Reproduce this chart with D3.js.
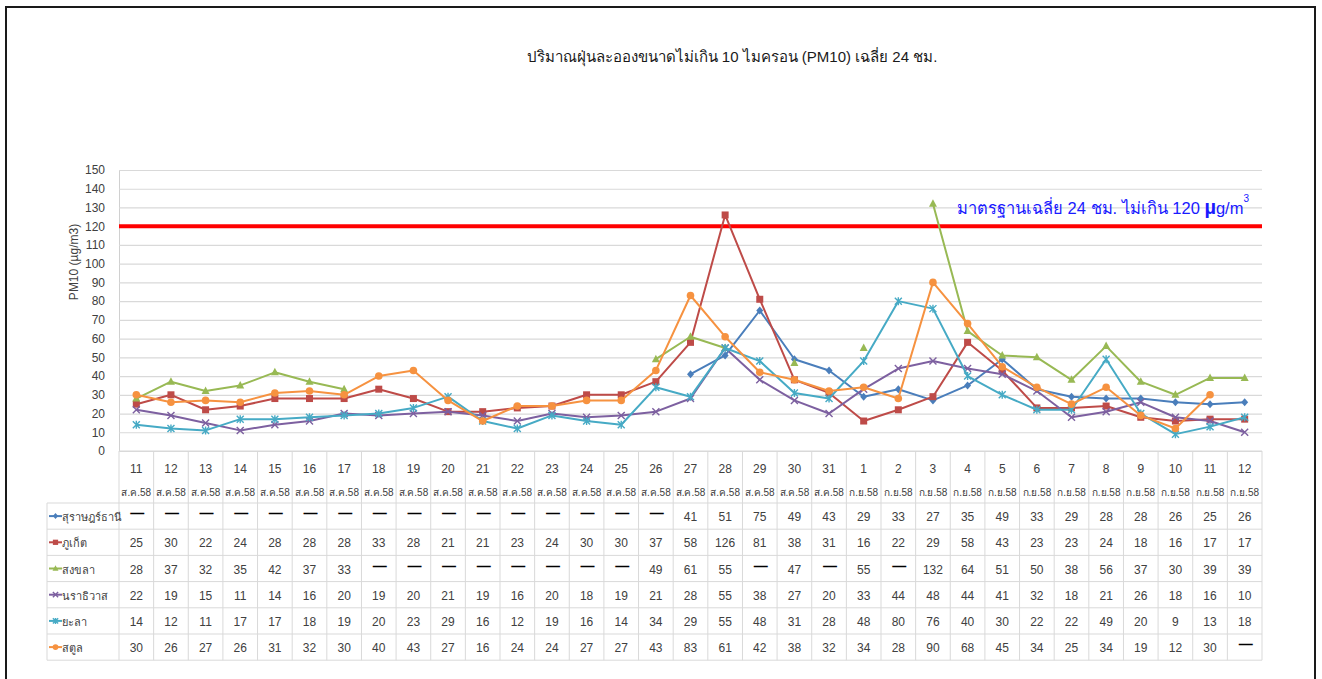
<!DOCTYPE html>
<html>
<head>
<meta charset="utf-8">
<script src="https://cdn.jsdelivr.net/npm/d3@7"></script>
<style>
  html, body { margin: 0; padding: 0; background: #fff; }
  svg { display: block; font-family: "Tahoma", "Liberation Sans", "Noto Sans", sans-serif; }
</style>
</head>
<body>
<svg id="chart" width="1322" height="679"></svg>
<script>
// ---------- data ----------
const days = ["11","12","13","14","15","16","17","18","19","20","21","22","23","24","25","26","27","28","29","30","31",
              "1","2","3","4","5","6","7","8","9","10","11","12"];
const months = ["ส.ค.58","ส.ค.58","ส.ค.58","ส.ค.58","ส.ค.58","ส.ค.58","ส.ค.58","ส.ค.58","ส.ค.58","ส.ค.58","ส.ค.58",
                "ส.ค.58","ส.ค.58","ส.ค.58","ส.ค.58","ส.ค.58","ส.ค.58","ส.ค.58","ส.ค.58","ส.ค.58","ส.ค.58",
                "ก.ย.58","ก.ย.58","ก.ย.58","ก.ย.58","ก.ย.58","ก.ย.58","ก.ย.58","ก.ย.58","ก.ย.58","ก.ย.58","ก.ย.58","ก.ย.58"];
const yTicks = [0,10,20,30,40,50,60,70,80,90,100,110,120,130,140,150];
const standardValue = 120;

const suratthani = [null,null,null,null,null,null,null,null,null,null,null,null,null,null,null,null,
                    41,51,75,49,43,29,33,27,35,49,33,29,28,28,26,25,26];
const phuket     = [25,30,22,24,28,28,28,33,28,21,21,23,24,30,30,37,58,126,81,38,31,16,22,29,58,43,23,23,24,18,16,17,17];
const songkhla   = [28,37,32,35,42,37,33,null,null,null,null,null,null,null,null,49,61,55,null,47,null,55,null,132,64,51,50,38,56,37,30,39,39];
const narathiwat = [22,19,15,11,14,16,20,19,20,21,19,16,20,18,19,21,28,55,38,27,20,33,44,48,44,41,32,18,21,26,18,16,10];
const yala       = [14,12,11,17,17,18,19,20,23,29,16,12,19,16,14,34,29,55,48,31,28,48,80,76,40,30,22,22,49,20,9,13,18];
const satun      = [30,26,27,26,31,32,30,40,43,27,16,24,24,27,27,43,83,61,42,38,32,34,28,90,68,45,34,25,34,19,12,30,null];

const seriesNames = ["สุราษฎร์ธานี","ภูเก็ต","สงขลา","นราธิวาส","ยะลา","สตูล"];
const seriesValues = [suratthani, phuket, songkhla, narathiwat, yala, satun];
const seriesColors = ["#4a7ebb","#be4b48","#98b954","#7d60a0","#46aac5","#f69240"];
const seriesMarkers = ["diamond","square","triangle","x","star","circle"];

// ---------- layout ----------
const svg = d3.select("#chart");
const plotLeft = 119, plotRight = 1262, plotTop = 170, plotBottom = 451;
const catRowBottom = 503, rowH = 26.2, legendLeft = 47;

const x = d3.scaleBand().domain(d3.range(days.length)).range([plotLeft, plotRight]);
const y = d3.scaleLinear().domain([0,150]).range([plotBottom, plotTop]);
const cx = i => x(i) + x.bandwidth()/2;

// frame
svg.append("rect").attr("x",6).attr("y",7).attr("width",1309).attr("height",700)
  .attr("fill","none").attr("stroke","#1a1a1a").attr("stroke-width",2);

// title
svg.append("text").attr("x",732).attr("y",62).attr("text-anchor","middle")
  .attr("font-size",15).attr("fill","#1a1a1a")
  .text("ปริมาณฝุ่นละอองขนาดไม่เกิน 10 ไมครอน (PM10) เฉลี่ย 24 ชม.");

// gridlines
const yAxis = d3.axisLeft(y).tickValues(yTicks).tickSize(-(plotRight-plotLeft)).tickPadding(14);
const gy = svg.append("g").attr("transform",`translate(${plotLeft},0)`).call(yAxis);
gy.select(".domain").attr("stroke","#d0d0d0");
gy.selectAll(".tick line").attr("stroke","#d9d9d9").attr("stroke-width",1.2);
gy.selectAll(".tick text").attr("font-size",12).attr("fill","#404040")
  .attr("font-family","Tahoma, 'Liberation Sans', sans-serif");

// y label
svg.append("text").attr("transform","translate(78,262) rotate(-90)")
  .attr("text-anchor","middle").attr("font-size",12).attr("fill","#404040")
  .text("PM10 (µg/m3)");

// ---------- table ----------
const tableColor = "#d9d9d9";
const tbl = svg.append("g");
tbl.append("line").attr("x1",plotLeft).attr("x2",plotRight).attr("y1",plotBottom).attr("y2",plotBottom).attr("stroke",tableColor);
const rowsBottom = catRowBottom + rowH*seriesNames.length;
for (let r = 0; r <= seriesNames.length; r++) {
  const yy = catRowBottom + r*rowH;
  tbl.append("line").attr("x1",legendLeft).attr("x2",plotRight).attr("y1",yy).attr("y2",yy).attr("stroke",tableColor);
}
d3.range(days.length+1).forEach(i => {
  const xx = i < days.length ? x(i) : plotRight;
  tbl.append("line").attr("x1",xx).attr("x2",xx).attr("y1",plotBottom).attr("y2",rowsBottom).attr("stroke",tableColor);
});
tbl.append("line").attr("x1",legendLeft).attr("x2",legendLeft).attr("y1",catRowBottom).attr("y2",rowsBottom).attr("stroke",tableColor);

// category labels
days.forEach((d,i) => {
  tbl.append("text").attr("x",cx(i)).attr("y",473).attr("text-anchor","middle")
    .attr("font-size",12).attr("fill","#404040").text(d);
  tbl.append("text").attr("x",cx(i)).attr("y",496).attr("text-anchor","middle")
    .attr("font-size",10).attr("fill","#404040").text(months[i]);
});

function marker(g, type, color, px, py, s) {
  s = s || 1;
  if (type === "diamond") {
    g.append("path").attr("d",`M${px},${py-4*s}L${px+3.5*s},${py}L${px},${py+4*s}L${px-3.5*s},${py}Z`).attr("fill",color);
  } else if (type === "square") {
    g.append("rect").attr("x",px-3.5*s).attr("y",py-3.5*s).attr("width",7*s).attr("height",7*s).attr("fill",color);
  } else if (type === "triangle") {
    g.append("path").attr("d",`M${px},${py-4.5*s}L${px+4*s},${py+3*s}L${px-4*s},${py+3*s}Z`).attr("fill",color);
  } else if (type === "x") {
    g.append("path").attr("d",`M${px-3.5*s},${py-3.5*s}L${px+3.5*s},${py+3.5*s}M${px+3.5*s},${py-3.5*s}L${px-3.5*s},${py+3.5*s}`)
      .attr("stroke",color).attr("stroke-width",1.4).attr("fill","none");
  } else if (type === "star") {
    g.append("path").attr("d",`M${px-3.5*s},${py-3.5*s}L${px+3.5*s},${py+3.5*s}M${px+3.5*s},${py-3.5*s}L${px-3.5*s},${py+3.5*s}M${px},${py-4*s}L${px},${py+4*s}`)
      .attr("stroke",color).attr("stroke-width",1.4).attr("fill","none");
  } else if (type === "circle") {
    g.append("circle").attr("cx",px).attr("cy",py).attr("r",3.8*s).attr("fill",color);
  }
}

seriesNames.forEach((name, r) => {
  const rowMid = catRowBottom + r*rowH + rowH/2;
  const lg = tbl.append("g");
  lg.append("line").attr("x1",49).attr("x2",62).attr("y1",rowMid).attr("y2",rowMid)
    .attr("stroke",seriesColors[r]).attr("stroke-width",2);
  marker(lg, seriesMarkers[r], seriesColors[r], 55.5, rowMid, 0.75);
  lg.append("text").attr("x",62).attr("y",rowMid+5).attr("font-size",11).attr("fill","#404040").text(name);
  seriesValues[r].forEach((v,i) => {
    if (v === null) {
      tbl.append("text").attr("x",cx(i)+1).attr("y",rowMid+2).attr("text-anchor","middle")
        .attr("font-size",14).attr("font-weight","bold").attr("fill","#000").text("—");
    } else {
      tbl.append("text").attr("x",cx(i)).attr("y",rowMid+5).attr("text-anchor","middle")
        .attr("font-size",12).attr("fill","#404040").text(v);
    }
  });
});

// ---------- standard line ----------
svg.append("line").attr("x1",plotLeft).attr("x2",plotRight).attr("y1",y(standardValue)).attr("y2",y(standardValue))
  .attr("stroke","#ff0000").attr("stroke-width",4);

// ---------- series lines ----------
const line = d3.line().defined(d => d !== null).x((d,i) => cx(i)).y(d => y(d));
seriesValues.forEach((vals, r) => {
  const g = svg.append("g");
  g.append("path").datum(vals).attr("d", line).attr("fill","none")
    .attr("stroke",seriesColors[r]).attr("stroke-width",2).attr("stroke-linejoin","round");
  vals.forEach((v,i) => { if (v !== null) marker(g, seriesMarkers[r], seriesColors[r], cx(i), y(v), 1); });
});

// annotation
const ann = svg.append("text").attr("x",957).attr("y",214).attr("font-size",16.5).attr("fill","#1a1aff");
ann.append("tspan").text("มาตรฐานเฉลี่ย 24 ชม. ไม่เกิน 120 ");
ann.append("tspan").attr("font-weight","bold").attr("font-size",20).text("µ");
ann.append("tspan").text("g/m");
ann.append("tspan").attr("font-size",10).attr("dy",-12).text("3");
</script>
</body>
</html>
